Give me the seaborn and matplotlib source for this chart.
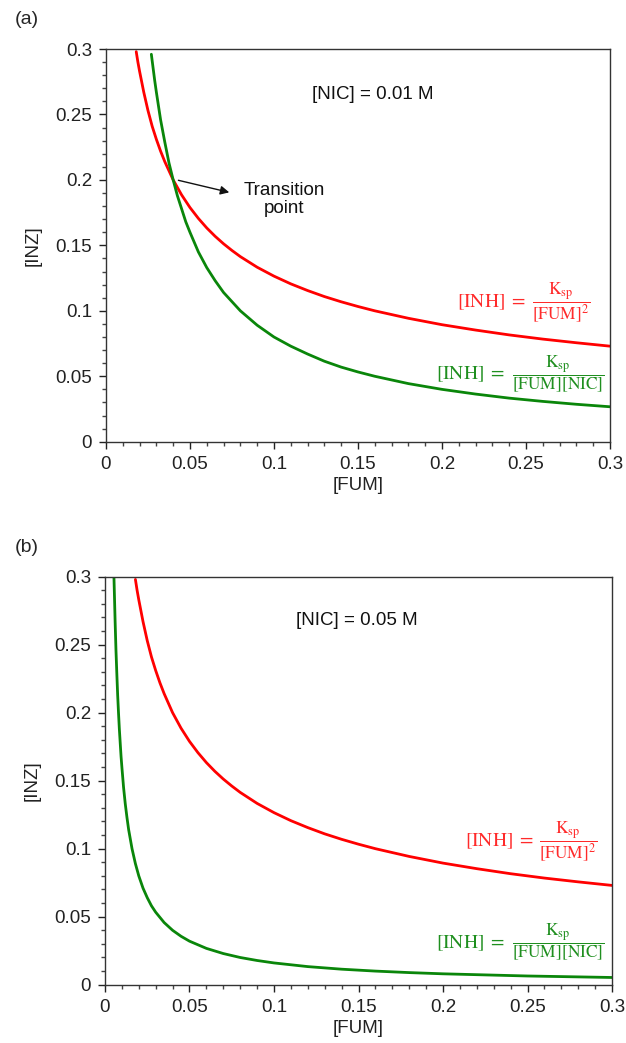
import numpy as np
import pandas as pd
import seaborn as sns
import matplotlib.pyplot as plt
from matplotlib.ticker import MultipleLocator, FuncFormatter

# Curves (x = [FUM], y = [INZ])
red_x = [0.018, 0.019, 0.02, 0.0225, 0.025, 0.0275, 0.03, 0.0325, 0.035, 0.0375, 0.04, 0.045, 0.05,
         0.055, 0.06, 0.065, 0.07, 0.075, 0.08, 0.09, 0.1, 0.11, 0.12, 0.13, 0.14, 0.15, 0.16, 0.18,
         0.2, 0.22, 0.24, 0.26, 0.28, 0.3]
red_y = [0.298, 0.290, 0.283, 0.267, 0.253, 0.241, 0.231, 0.222, 0.214, 0.207, 0.200, 0.1886, 0.1789,
         0.1706, 0.1633, 0.1569, 0.1512, 0.1461, 0.1414, 0.1333, 0.1265, 0.1206, 0.1155, 0.1109,
         0.1069, 0.1033, 0.1000, 0.0943, 0.0894, 0.0853, 0.0816, 0.0784, 0.0756, 0.0730]

green_a_x = [0.027, 0.028, 0.029, 0.03, 0.0325, 0.035, 0.0375, 0.04, 0.0425, 0.045, 0.0475, 0.05,
             0.055, 0.06, 0.065, 0.07, 0.075, 0.08, 0.09, 0.1, 0.11, 0.12, 0.13, 0.14, 0.15, 0.16,
             0.18, 0.2, 0.22, 0.24, 0.26, 0.28, 0.3]
green_a_y = [0.296, 0.286, 0.276, 0.267, 0.246, 0.229, 0.213, 0.200, 0.188, 0.178, 0.168, 0.160,
             0.145, 0.133, 0.123, 0.114, 0.107, 0.100, 0.089, 0.080, 0.073, 0.067, 0.0615, 0.057,
             0.0533, 0.050, 0.0444, 0.040, 0.0364, 0.0333, 0.0308, 0.0286, 0.0267]

green_b_x = [0.0053, 0.0056, 0.006, 0.0065, 0.007, 0.0075, 0.008, 0.0085, 0.009, 0.0095, 0.01, 0.011,
             0.012, 0.013, 0.014, 0.015, 0.016, 0.018, 0.02, 0.0225, 0.025, 0.0275, 0.03, 0.035,
             0.04, 0.045, 0.05, 0.06, 0.07, 0.08, 0.09, 0.1, 0.12, 0.14, 0.16, 0.18, 0.2, 0.25, 0.3]
green_b_y = [0.300, 0.286, 0.267, 0.246, 0.229, 0.213, 0.200, 0.188, 0.178, 0.168, 0.160, 0.145,
             0.133, 0.123, 0.114, 0.107, 0.100, 0.089, 0.080, 0.071, 0.064, 0.058, 0.0533, 0.0457,
             0.040, 0.0356, 0.032, 0.0267, 0.0229, 0.020, 0.0178, 0.016, 0.0133, 0.0114, 0.010,
             0.0089, 0.008, 0.0064, 0.0053]

nic_labels = ['[NIC] = 0.01 M', '[NIC] = 0.05 M']
panel_labels = ['(a)', '(b)']

lhs = r'$[\mathrm{INH}]\;=$'
red_frac = r'$\dfrac{\mathrm{K_{sp}}}{[\mathrm{FUM}]^{2}}$'
green_frac = r'$\dfrac{\mathrm{K_{sp}}}{[\mathrm{FUM}][\mathrm{NIC}]}$'

RED = '#ff0000'
GREEN = '#0a860a'
LABEL_RED = '#ff2a2a'
LABEL_GREEN = '#1f8f1f'

sns.set_style('ticks')
plt.rcParams['font.family'] = ['Liberation Sans', 'DejaVu Sans']
plt.rcParams['mathtext.fontset'] = 'stix'

fig = plt.figure(figsize=(6.26, 10.43), dpi=100)
ax_a = fig.add_axes([0.1693, 0.5765, 0.805, 0.3765])
ax_b = fig.add_axes([0.1677, 0.0559, 0.81, 0.3912])

green_sets = [(green_a_x, green_a_y), (green_b_x, green_b_y)]

for ax, (gx, gy) in zip([ax_a, ax_b], green_sets):
    df_red = pd.DataFrame({'FUM': red_x, 'INZ': red_y})
    df_green = pd.DataFrame({'FUM': gx, 'INZ': gy})
    sns.lineplot(data=df_red, x='FUM', y='INZ', color=RED, lw=2, sort=False, estimator=None, ax=ax)
    sns.lineplot(data=df_green, x='FUM', y='INZ', color=GREEN, lw=2, sort=False, estimator=None, ax=ax)

    ax.set_xlim(0, 0.3)
    ax.set_ylim(0, 0.3)
    ax.xaxis.set_major_locator(MultipleLocator(0.05))
    ax.xaxis.set_minor_locator(MultipleLocator(0.01))
    ax.yaxis.set_major_locator(MultipleLocator(0.05))
    ax.yaxis.set_minor_locator(MultipleLocator(0.01))
    fmt = FuncFormatter(lambda v, p: '{:g}'.format(round(v, 3)))
    ax.xaxis.set_major_formatter(fmt)
    ax.yaxis.set_major_formatter(fmt)
    ax.tick_params(which='major', direction='out', length=5, width=1, labelsize=13.5, colors='#222222', pad=5)
    ax.tick_params(which='minor', direction='out', length=3, width=1, colors='#444444')
    for s in ax.spines.values():
        s.set_visible(True)
        s.set_color('#333333')
        s.set_linewidth(1)
    ax.set_xlabel('[FUM]', fontsize=13.5, color='#222222', labelpad=3)
    ax.set_ylabel('[INZ]', fontsize=13.5, color='#222222', labelpad=10)


def equation(ax, x_eq, x_frac, y, frac, color):
    ax.text(x_eq, y, lhs, fontsize=14, ha='right', va='center', color=color)
    ax.text(x_frac, y, frac, fontsize=12.5, ha='center', va='center', color=color)


# Panel (a) annotations
ax_a.text(0.159, 0.265, nic_labels[0], fontsize=13.5, ha='center', va='center', color='#111111')
ax_a.annotate('', xy=(0.075, 0.19), xytext=(0.0415, 0.2002),
              arrowprops=dict(arrowstyle='-|>', color='#111111', lw=1, mutation_scale=13))
ax_a.text(0.106, 0.185, 'Transition\npoint', fontsize=13.5, ha='center', va='center',
          color='#111111', linespacing=1.1)
equation(ax_a, 0.2500, 0.2708, 0.1067, red_frac, LABEL_RED)
equation(ax_a, 0.2372, 0.2695, 0.0517, green_frac, LABEL_GREEN)

# Panel (b) annotations
ax_b.text(0.149, 0.268, nic_labels[1], fontsize=13.5, ha='center', va='center', color='#111111')
equation(ax_b, 0.2538, 0.2743, 0.1057, red_frac, LABEL_RED)
equation(ax_b, 0.2364, 0.2685, 0.0307, green_frac, LABEL_GREEN)

fig.text(15 / 626, 1 - 20 / 1043, panel_labels[0], fontsize=14, ha='left', va='center')
fig.text(15 / 626, 1 - 548 / 1043, panel_labels[1], fontsize=14, ha='left', va='center')

fig.savefig('out.png', dpi=100)
